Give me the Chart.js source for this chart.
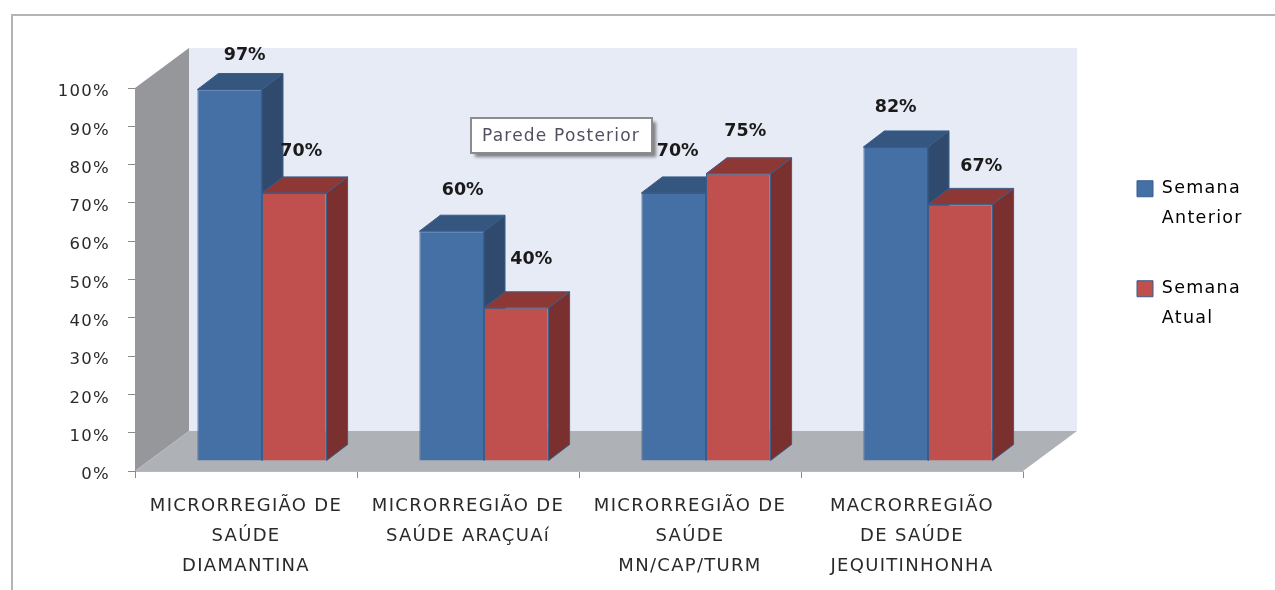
<!DOCTYPE html>
<html>
<head>
<meta charset="utf-8">
<script src="https://cdn.jsdelivr.net/npm/chart.js@4"></script>
<style>
    html, body { margin: 0; padding: 0; background: #fff; }
    #frame { position: absolute; left: 11px; top: 14px; right: 0; bottom: 0; border-left: 2px solid #b4b4b4; border-top: 2px solid #b4b4b4; }
    canvas { position: absolute; left: 0; top: 0; filter: blur(0.45px); }
</style>
</head>
<body>
<canvas id="chart" width="1275" height="590"></canvas>
<div id="frame"></div>
<script>
const categorias = [
    ['MICRORREGIÃO DE', 'SAÚDE', 'DIAMANTINA'],
    ['MICRORREGIÃO DE', 'SAÚDE ARAÇUAí'],
    ['MICRORREGIÃO DE', 'SAÚDE', 'MN/CAP/TURM'],
    ['MACRORREGIÃO', 'DE SAÚDE', 'JEQUITINHONHA']
];
const semanaAnterior = [97, 60, 70, 82];
const semanaAtual = [70, 40, 75, 67];
const legendaAnterior = ['Semana', 'Anterior'];
const legendaAtual = ['Semana', 'Atual'];

// deslocamento manual dos rótulos em relação ao topo da barra
const rotuloAnterior = [[15, -34], [11, -41], [4, -41], [0, -39]];
const rotuloAtual = [[7, -41], [15, -48], [7, -42], [21, -38]];

const fonte = '"DejaVu Sans"';
const corTexto = '#2a2a2a';
const paredeX = 54, paredeY = 40;   // profundidade das paredes
const barraX = 16, barraY = -10;    // barras ficam recuadas no piso
const fundoX = 21, fundoY = -16;    // profundidade da barra

const faces = [
    { frente: '#4470A6', lado: '#2F4A6D', topo: '#34567F' },
    { frente: '#C0504D', lado: '#7A302F', topo: '#8E3836' }
];

function poligono(ctx, pontos, cor) {
    ctx.beginPath();
    pontos.forEach(function(p, i) {
        if (i === 0) ctx.moveTo(p[0], p[1]);
        else ctx.lineTo(p[0], p[1]);
    });
    ctx.closePath();
    ctx.fillStyle = cor;
    ctx.fill();
}

function desenhaFaces(chart, indice) {
    const ctx = chart.ctx;
    const cores = faces[indice];
    chart.getDatasetMeta(indice).data.forEach(function(el) {
        const p = el.getProps(['x', 'y', 'base', 'width'], true);
        const esq = p.x - p.width / 2, dir = p.x + p.width / 2;
        const lado = [[dir, p.y], [dir + fundoX, p.y + fundoY], [dir + fundoX, p.base + fundoY], [dir, p.base]];
        const topo = [[esq, p.y], [esq + fundoX, p.y + fundoY], [dir + fundoX, p.y + fundoY], [dir, p.y]];
        poligono(ctx, lado, cores.lado);
        ctx.strokeStyle = '#385D8A';
        ctx.lineWidth = 1;
        ctx.stroke();
        poligono(ctx, topo, cores.topo);
        ctx.stroke();
    });
}

const efeito3d = {
    id: 'efeito3d',
    afterLayout(chart) {
        // legenda fora da área do gráfico
        const leg = chart.legend;
        const w = leg.width, h = leg.height;
        leg.left = 1097; leg.right = 1097 + w;
        leg.top = 140; leg.bottom = 140 + h;
    },
    beforeDraw(chart) {
        chart.ctx.letterSpacing = '1.3px';
    },
    beforeDatasetsDraw(chart) {
        const ctx = chart.ctx;
        const a = chart.chartArea;
        ctx.save();
        poligono(ctx, [[a.left + paredeX, a.top - paredeY], [a.right + paredeX, a.top - paredeY], [a.right + paredeX, a.bottom - paredeY], [a.left + paredeX, a.bottom - paredeY]], '#E7EBF5');
        poligono(ctx, [[a.left, a.top], [a.left + paredeX, a.top - paredeY], [a.left + paredeX, a.bottom - paredeY], [a.left, a.bottom]], '#96979B');
        poligono(ctx, [[a.left, a.bottom], [a.left + paredeX, a.bottom - paredeY], [a.right + paredeX, a.bottom - paredeY], [a.right, a.bottom]], '#AEB1B5');
        ctx.restore();
    },
    beforeDatasetDraw(chart, args) {
        // a série da direita precisa ficar por cima, então é desenhada depois da azul
        if (args.index === 1) return false;
        chart.ctx.save();
        chart.ctx.translate(barraX, barraY);
        desenhaFaces(chart, 0);
    },
    afterDatasetDraw(chart, args) {
        const ctx = chart.ctx;
        desenhaFaces(chart, 1);
        chart.getDatasetMeta(1).data.forEach(function(el) {
            el.draw(ctx, chart.chartArea);
        });
        ctx.restore();
    },
    afterDatasetsDraw(chart) {
        const ctx = chart.ctx;
        ctx.save();
        ctx.letterSpacing = '0px';
        ctx.font = 'bold 17.5px ' + fonte;
        ctx.fillStyle = '#1a1a1a';
        ctx.textAlign = 'center';
        ctx.textBaseline = 'middle';
        [rotuloAnterior, rotuloAtual].forEach(function(rotulos, d) {
            chart.getDatasetMeta(d).data.forEach(function(el, i) {
                const v = chart.data.datasets[d].data[i];
                ctx.fillText(v + '%', el.x + barraX + rotulos[i][0], el.y + barraY + rotulos[i][1]);
            });
        });
        ctx.restore();
    },
    afterDraw(chart) {
        // caixa "Parede Posterior"
        const ctx = chart.ctx;
        ctx.save();
        ctx.shadowColor = 'rgba(0,0,0,0.45)';
        ctx.shadowOffsetX = 4;
        ctx.shadowOffsetY = 4;
        ctx.shadowBlur = 3;
        ctx.fillStyle = '#fff';
        ctx.fillRect(471, 118, 181, 35);
        ctx.shadowColor = 'transparent';
        ctx.strokeStyle = '#8c8c8c';
        ctx.lineWidth = 2;
        ctx.strokeRect(471, 118, 181, 35);
        ctx.fillStyle = '#50505f';
        ctx.font = '17px ' + fonte;
        ctx.letterSpacing = '1.2px';
        ctx.textAlign = 'center';
        ctx.textBaseline = 'middle';
        ctx.fillText('Parede Posterior', 561, 137);
        ctx.restore();
    }
};

new Chart(document.getElementById('chart'), {
    type: 'bar',
    data: {
        labels: categorias,
        datasets: [
            { label: legendaAnterior, data: semanaAnterior, backgroundColor: faces[0].frente, borderColor: '#385D8A', borderWidth: 1, clip: false },
            { label: legendaAtual, data: semanaAtual, backgroundColor: faces[1].frente, borderColor: '#385D8A', borderWidth: 1, clip: false }
        ]
    },
    options: {
        responsive: false,
        animation: false,
        layout: { padding: { top: 88, left: 0, right: 252, bottom: 0 } },
        datasets: { bar: { barPercentage: 1, categoryPercentage: 0.582 } },
        plugins: {
            tooltip: { enabled: false },
            legend: {
                position: 'chartArea',
                align: 'start',
                labels: {
                    boxWidth: 16,
                    boxHeight: 16,
                    padding: 40,
                    color: corTexto,
                    font: { family: fonte, size: 17.5, lineHeight: 1.714 },
                    generateLabels(chart) {
                        return chart.data.datasets.map(function(ds, i) {
                            return { text: ds.label, fillStyle: ds.backgroundColor, strokeStyle: ds.borderColor, lineWidth: 1, datasetIndex: i };
                        });
                    }
                }
            }
        },
        scales: {
            x: {
                afterFit(scale) { scale.height = 119; },
                grid: { drawOnChartArea: false, drawTicks: true, tickLength: 7, color: '#8a8a8a' },
                border: { color: '#b8b8b8' },
                ticks: {
                    autoSkip: false,
                    maxRotation: 0,
                    padding: 13,
                    color: corTexto,
                    font: { family: fonte, size: 18, lineHeight: 1.67 }
                }
            },
            y: {
                min: 0,
                max: 100,
                afterFit(scale) { scale.width = 135; },
                grid: { drawOnChartArea: false, drawTicks: true, tickLength: 7, color: '#8a8a8a' },
                border: { color: '#8a8a8a' },
                ticks: {
                    stepSize: 10,
                    padding: 18,
                    labelOffset: 4,
                    color: corTexto,
                    font: { family: fonte, size: 16.5 },
                    callback: function(value) { return value + '%'; }
                }
            }
        }
    },
    plugins: [efeito3d]
});
</script>
</body>
</html>
